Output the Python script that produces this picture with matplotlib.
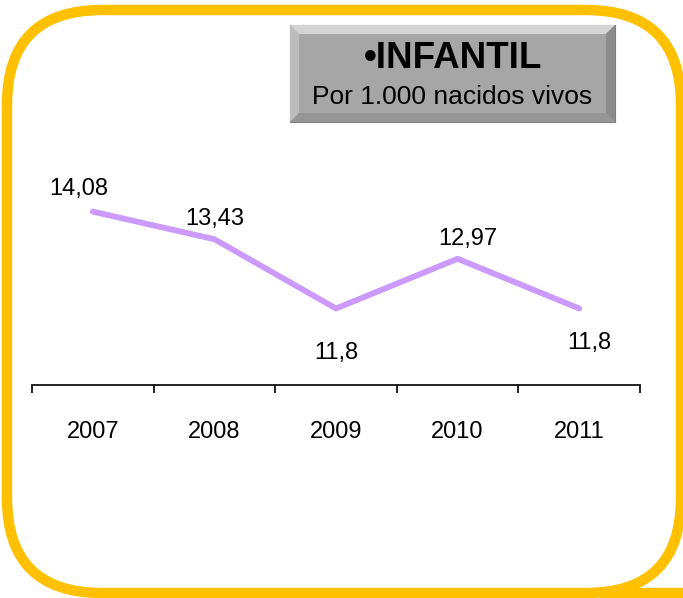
import matplotlib.pyplot as plt
from matplotlib.patches import FancyBboxPatch, Polygon, Rectangle

plt.rcParams['font.family'] = ['Liberation Sans', 'DejaVu Sans']

years = ['2007', '2008', '2009', '2010', '2011']
tasa = [14.08, 13.43, 11.8, 12.97, 11.8]
etiquetas = ['14,08', '13,43', '11,8', '12,97', '11,8']
# label offsets (points) relative to each data point
offsets = [(-10, 16.5), (0, 14.5), (0, -32), (7, 14), (7, -25)]

W, H = 683, 598
fig = plt.figure(figsize=(W / 100, H / 100), dpi=100)

# background layer in pixel coordinates
bg = fig.add_axes([0, 0, 1, 1])
bg.set_xlim(0, W)
bg.set_ylim(H, 0)
bg.axis('off')

# rounded yellow frame
frame = FancyBboxPatch((7, 10), 674, 583, boxstyle='round,pad=0,rounding_size=95',
                       fill=False, edgecolor='#FFC000', linewidth=7.5, zorder=1)
bg.add_patch(frame)
bg.plot([600, W], [593, 593], color='#FFC000', linewidth=7.5, solid_capstyle='butt', zorder=1)

# bevelled title box
x0, y0, x1, y1 = 290, 25, 615, 122
b = 9
bg.add_patch(Rectangle((x0, y0), x1 - x0, y1 - y0, facecolor='#A6A6A6',
                       edgecolor='#7F7F7F', linewidth=0.8, zorder=2))
bg.add_patch(Polygon([(x0, y0), (x1, y0), (x1 - b, y0 + b), (x0 + b, y0 + b)],
                     facecolor='#D4D4D4', edgecolor='none', zorder=3))
bg.add_patch(Polygon([(x0, y0), (x0 + b, y0 + b), (x0 + b, y1 - b), (x0, y1)],
                     facecolor='#BDBDBD', edgecolor='none', zorder=3))
bg.add_patch(Polygon([(x1, y0), (x1, y1), (x1 - b, y1 - b), (x1 - b, y0 + b)],
                     facecolor='#8C8C8C', edgecolor='none', zorder=3))
bg.add_patch(Polygon([(x0, y1), (x1, y1), (x1 - b, y1 - b), (x0 + b, y1 - b)],
                     facecolor='#969696', edgecolor='none', zorder=3))
bg.text(453, 58, '\u2022INFANTIL', ha='center', va='center', fontsize=26.5,
        fontweight='bold', color='black', zorder=4)
bg.text(452, 97, 'Por 1.000 nacidos vivos', ha='center', va='center',
        fontsize=19, color='black', zorder=4)

# line chart
ax = fig.add_axes([32 / W, 1 - 385 / H, 608 / W, 212.5 / H])
ax.patch.set_alpha(0)
x = range(len(years))
ax.plot(x, tasa, color='#CC99FF', linewidth=4.2, solid_capstyle='round')
for xi, v, lab, off in zip(x, tasa, etiquetas, offsets):
    ax.annotate(lab, (xi, v), xytext=off, textcoords='offset points',
                ha='center', va='center', fontsize=17)

ax.set_xlim(-0.5, len(years) - 0.5)
ax.set_ylim(10, 15)
for s in ['top', 'right', 'left']:
    ax.spines[s].set_visible(False)
ax.spines['bottom'].set_linewidth(1.2)
ax.set_yticks([])
ax.set_xticks([i - 0.5 for i in range(len(years) + 1)], minor=False)
ax.set_xticklabels([])
ax.tick_params(axis='x', length=6, width=1.2, direction='out')
ax.set_xticks(list(x), minor=True)
ax.set_xticklabels(years, minor=True, fontsize=17)
ax.tick_params(axis='x', which='minor', length=0, pad=26)

fig.savefig('out.png', dpi=100)
